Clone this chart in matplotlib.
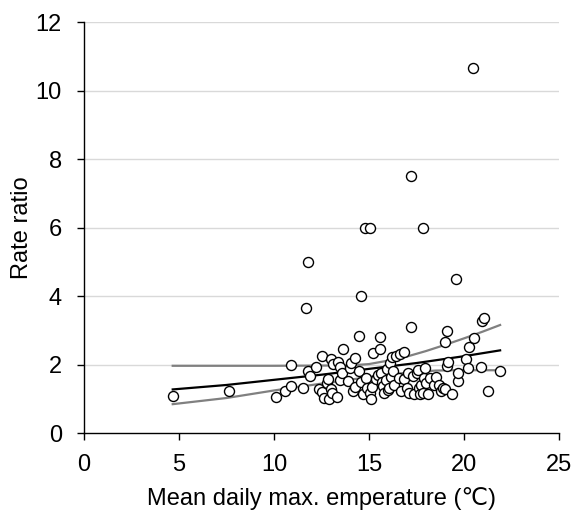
import matplotlib
matplotlib.use("Agg")
import matplotlib.pyplot as plt

plt.rcParams['font.family'] = ['Liberation Sans', 'DejaVu Sans']

temp = [4.67, 7.62, 10.13, 10.59, 10.88, 10.88, 11.54, 11.71, 11.81, 11.81, 11.90, 12.21,
        12.38, 12.52, 12.54, 12.62, 12.77, 12.83, 12.89, 13.00, 13.02, 13.06, 13.12, 13.29,
        13.39, 13.45, 13.48, 13.58, 13.64, 13.87, 13.99, 14.06, 14.18, 14.24, 14.26, 14.45,
        14.49, 14.58, 14.60, 14.68, 14.78, 14.83, 14.89, 15.03, 15.07, 15.08, 15.18, 15.22,
        15.36, 15.47, 15.57, 15.57, 15.64, 15.70, 15.74, 15.80, 15.90, 15.93, 15.99, 16.03,
        16.09, 16.15, 16.22, 16.28, 16.34, 16.42, 16.57, 16.63, 16.67, 16.86, 16.86, 16.99,
        17.05, 17.11, 17.23, 17.23, 17.30, 17.38, 17.53, 17.59, 17.63, 17.69, 17.73, 17.82,
        17.86, 17.88, 17.94, 18.02, 18.11, 18.23, 18.40, 18.50, 18.69, 18.79, 18.89, 18.98,
        19.02, 19.08, 19.10, 19.14, 19.37, 19.56, 19.66, 19.71, 20.08, 20.20, 20.24, 20.49,
        20.54, 20.87, 20.97, 21.05, 21.26, 21.91]
rate = [1.09, 1.22, 1.05, 1.24, 1.39, 2.00, 1.31, 3.67, 5.01, 1.82, 1.67, 1.94,
        1.28, 2.26, 1.20, 1.04, 1.48, 1.59, 1.00, 2.16, 1.29, 1.17, 2.01, 1.05,
        2.09, 1.56, 1.94, 1.77, 2.46, 1.53, 1.90, 2.06, 1.24, 1.34, 2.19, 2.85,
        1.83, 4.00, 1.49, 1.14, 6.00, 1.60, 1.33, 1.19, 6.00, 1.00, 1.36, 2.33,
        1.59, 1.70, 2.82, 2.45, 1.77, 1.50, 1.38, 1.17, 1.56, 1.87, 1.26, 1.33,
        2.04, 1.65, 2.24, 1.83, 1.40, 2.26, 1.60, 2.31, 1.22, 2.36, 1.58, 1.31,
        1.77, 1.19, 3.11, 7.51, 1.67, 1.14, 1.75, 1.85, 1.33, 1.14, 1.41, 1.19,
        6.00, 1.62, 1.90, 1.46, 1.14, 1.62, 1.41, 1.65, 1.41, 1.24, 1.31, 2.65,
        1.28, 1.97, 2.99, 2.07, 1.15, 4.49, 1.54, 1.77, 2.16, 1.90, 2.51, 10.67,
        2.79, 1.94, 3.28, 3.36, 1.24, 1.82]

fit_x = [4.67, 7.5, 10.0, 12.5, 15.0, 17.5, 20.0, 21.9]
fit_y = [1.28, 1.41, 1.56, 1.71, 1.88, 2.05, 2.25, 2.42]
upper_x = [4.67, 10.0, 14.0, 15.0, 16.0, 17.0, 18.0, 19.0, 20.0, 21.0, 21.9]
upper_y = [1.97, 1.97, 1.98, 2.02, 2.12, 2.24, 2.40, 2.58, 2.77, 2.97, 3.16]
lower_x = [4.67, 7.5, 10.0, 12.5, 15.0, 17.0, 18.5, 19.5, 21.9]
lower_y = [0.85, 1.03, 1.25, 1.45, 1.64, 1.77, 1.83, 1.84, 1.84]

fig = plt.figure(figsize=(5.74, 5.12), dpi=100)
ax = fig.add_axes([0.1463, 0.1537, 0.8276, 0.8033])

ax.set_xlim(0, 25)
ax.set_ylim(0, 12)
ax.set_xticks([0, 5, 10, 15, 20, 25])
ax.set_yticks([0, 2, 4, 6, 8, 10, 12])
for yv in [2, 4, 6, 8, 10, 12]:
    ax.axhline(yv, color='#d9d9d9', lw=1, zorder=0)

ax.plot(upper_x, upper_y, color='#808080', lw=1.6, zorder=2)
ax.plot(lower_x, lower_y, color='#808080', lw=1.6, zorder=2)
ax.plot(fit_x, fit_y, color='black', lw=1.6, zorder=3)
ax.scatter(temp, rate, s=52, facecolors='white', edgecolors='black', linewidths=1.0, zorder=4)

for side in ['top', 'right']:
    ax.spines[side].set_visible(False)
ax.spines['left'].set_linewidth(1)
ax.spines['bottom'].set_linewidth(1)
ax.tick_params(axis='both', direction='out', length=5, width=1, labelsize=17, colors='black')
ax.tick_params(axis='x', pad=10)
ax.tick_params(axis='y', pad=11)
ax.set_xlabel('Mean daily max. emperature (\u2103)', fontsize=17, labelpad=8)
ax.set_ylabel('Rate ratio', fontsize=17, labelpad=2)

fig.savefig('out.png', dpi=100)
